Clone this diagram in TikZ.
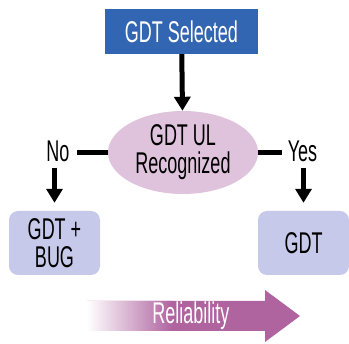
\documentclass[tikz,border=0pt]{standalone}
\usepackage{fontspec}
\setmainfont{Liberation Sans}[FakeStretch=0.6]
\usetikzlibrary{positioning,arrows.meta,calc,shapes.geometric}
\definecolor{selblue}{HTML}{3366B2}
\definecolor{recpink}{HTML}{DFC3DC}
\definecolor{resblue}{HTML}{C6C9E9}
\definecolor{relpurple}{HTML}{AF64A0}
\tikzset{
  txt/.style={font=\fontsize{30}{28}\selectfont,align=center},
  selbox/.style={txt,fill=selblue,text=white,minimum width=153pt,minimum height=45pt,inner sep=0pt},
  recell/.style={txt,ellipse,fill=recpink,minimum width=150pt,minimum height=83pt,inner sep=0pt},
  resbox/.style={txt,fill=resblue,rounded corners=9pt,minimum width=91pt,minimum height=64pt,inner sep=0pt},
  lbl/.style={txt,inner sep=0pt},
  flowarr/.style={-{Triangle[length=14pt,width=16pt]},line width=5pt},
  flowline/.style={line width=5pt},
}
\begin{document}
\begin{tikzpicture}[x=1pt,y=-1pt]
  \useasboundingbox (0,0) rectangle (349,344);
  % decision flow
  \node[selbox] (sel) at (181.5,31.5) {GDT Selected};
  \node[recell] (rec) at (183,152.5) {GDT UL\\Recognized};
  \node[lbl] (no) at (58,151) {No};
  \node[lbl] (yes) at (302.5,151) {Yes};
  \node[resbox] (bug) at (54.5,243) {GDT +\\BUG};
  \node[resbox] (gdt) at (303.5,243) {GDT};
  \draw[flowarr] (sel) -- (rec);
  \draw[flowline,shorten >=7pt] (rec.west) -- (rec.west -| no.east);
  \draw[flowline,shorten >=6pt] (rec.east) -- (rec.east -| yes.west);
  \draw[flowarr,shorten <=6pt,shorten >=8pt] (no.south -| bug.north) -- (bug.north);
  \draw[flowarr,shorten <=6pt,shorten >=8pt] (yes.south -| gdt.north) -- (gdt.north);
  % reliability arrow
  \begin{scope}
    \clip (87,301) -- (265,301) -- (265,290) -- (300,316) -- (265,342) -- (265,331) -- (87,331) -- cycle;
    \fill[relpurple] (80,285) rectangle (310,344);
    \shade[left color=white,right color=relpurple] (87,285) rectangle (172,344);
  \end{scope}
  \node[lbl,text=white] (rel) at (191,316) {Reliability};
\end{tikzpicture}
\end{document}
